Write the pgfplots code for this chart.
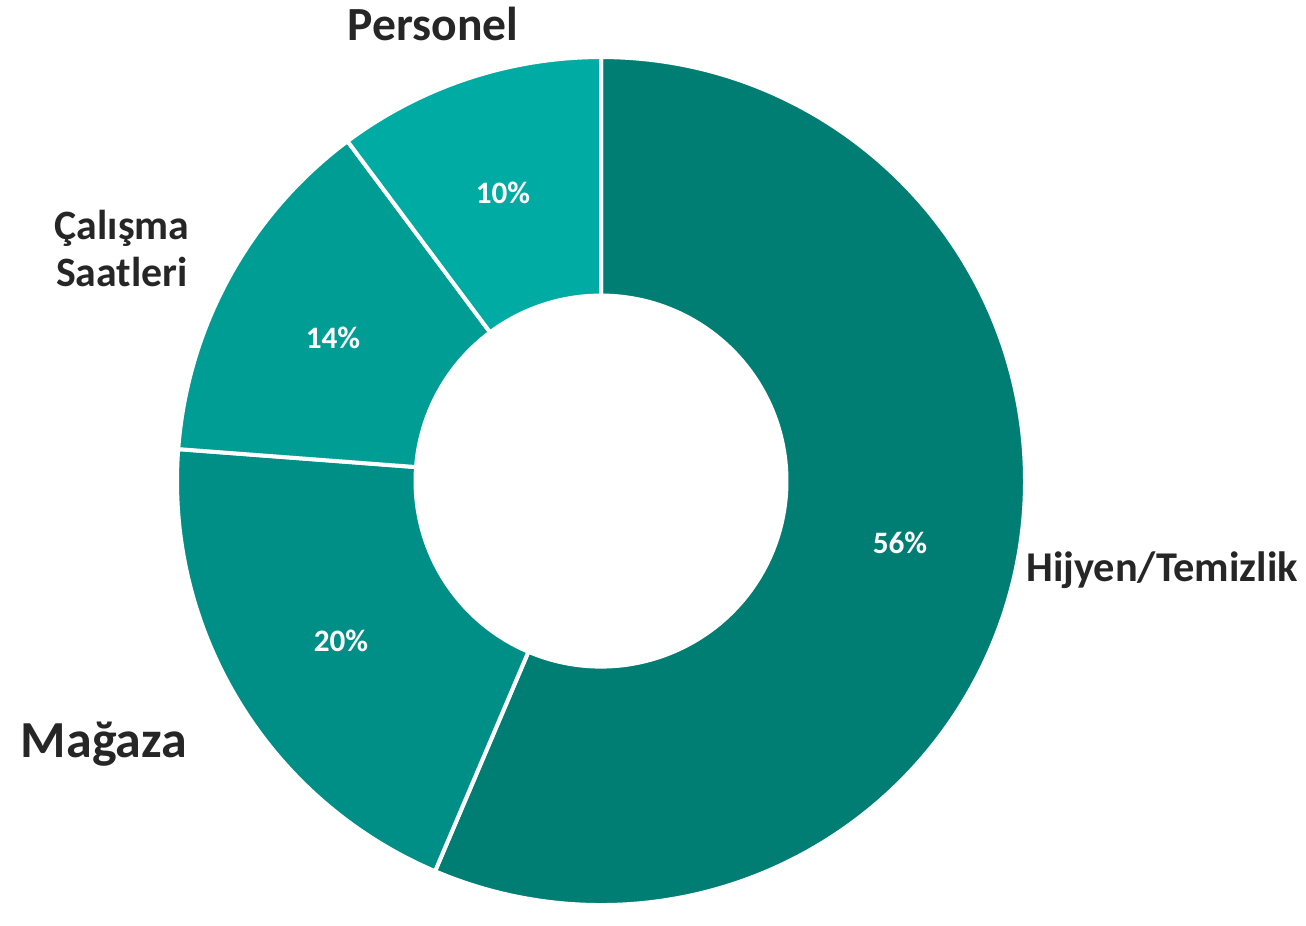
\documentclass[border=0pt]{standalone}
\usepackage{pgfplots}
\pgfplotsset{compat=1.18}
\usepackage{pgfplotstable}
\usepackage{fontspec}
\setmainfont{Carlito}
\usetikzlibrary{calc}

\definecolor{cA}{RGB}{0,126,115}
\definecolor{cB}{RGB}{0,143,134}
\definecolor{cC}{RGB}{0,157,148}
\definecolor{cD}{RGB}{0,171,164}
\definecolor{txt}{RGB}{38,38,38}

\pgfplotstableread{
label value
Hijyen 56.4
Magaza 19.8
Calisma 13.6
Personel 10.2
}\piedata

\newcommand\donutwedge[3]{%
  \fill[#1, draw=white, line width=2pt, line join=round]
    ($(axis cs:601,428)+(#2:212pt)$) arc[start angle=#2, end angle=#3, radius=212pt]
    -- ($(axis cs:601,428)+(#3:92.75pt)$) arc[start angle=#3, end angle=#2, radius=92.75pt]
    -- cycle;}

\begin{document}
\begin{tikzpicture}
\pgfplotstablegetelem{0}{value}\of\piedata \let\va\pgfplotsretval
\pgfplotstablegetelem{1}{value}\of\piedata \let\vb\pgfplotsretval
\pgfplotstablegetelem{2}{value}\of\piedata \let\vc\pgfplotsretval
\pgfplotstablegetelem{3}{value}\of\piedata \let\vd\pgfplotsretval
\pgfmathsetmacro\aA{90}
\pgfmathsetmacro\aB{\aA-3.6*\va}
\pgfmathsetmacro\aC{\aB-3.6*\vb}
\pgfmathsetmacro\aD{\aC-3.6*\vc}
\pgfmathsetmacro\aE{\aD-3.6*\vd}
\begin{axis}[scale only axis, width=653pt, height=453.5pt,
  xmin=0, xmax=1306, ymin=0, ymax=907, hide axis, clip=false]
\path (axis cs:0,0) rectangle (axis cs:1306,907);
\donutwedge{cA}{\aA}{\aB}
\donutwedge{cB}{\aB}{\aC}
\donutwedge{cC}{\aC}{\aD}
\donutwedge{cD}{\aD}{\aE}
% percentage labels
\node[anchor=base, text=white, font=\bfseries\fontsize{15.6}{18}\selectfont] at (axis cs:503,705.3) {10\%};
\node[anchor=base, text=white, font=\bfseries\fontsize{15.6}{18}\selectfont] at (axis cs:333,560.5) {14\%};
\node[anchor=base, text=white, font=\bfseries\fontsize{15.6}{18}\selectfont] at (axis cs:341,257.5) {20\%};
\node[anchor=base, text=white, font=\bfseries\fontsize{15.6}{18}\selectfont] at (axis cs:900,355.3) {56\%};
% category labels
\node[anchor=base, text=txt, font=\bfseries\fontsize{23.8}{28}\selectfont] at (axis cs:433,869) {Personel};
\node[anchor=base, text=txt, font=\bfseries\fontsize{20.9}{25}\selectfont] at (axis cs:122,670) {Çalışma};
\node[anchor=base, text=txt, font=\bfseries\fontsize{20.9}{25}\selectfont] at (axis cs:122,623) {Saatleri};
\node[anchor=base, text=txt, font=\bfseries\fontsize{26}{31}\selectfont] at (axis cs:104,152) {Mağaza};
\node[anchor=base, text=txt, font=\bfseries\fontsize{21.2}{25}\selectfont] at (axis cs:1162,328) {Hijyen/Temizlik};
\end{axis}
\end{tikzpicture}
\end{document}
